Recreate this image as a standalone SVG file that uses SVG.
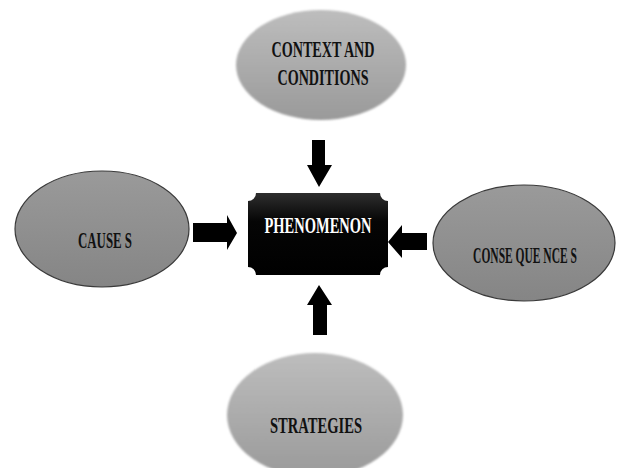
<svg xmlns="http://www.w3.org/2000/svg" width="618" height="468" viewBox="0 0 618 468">
<defs>
<linearGradient id="gLight" x1="0" y1="0" x2="0" y2="1">
<stop offset="0" stop-color="#bdbdbd"/>
<stop offset="1" stop-color="#9a9a9a"/>
</linearGradient>
<linearGradient id="gSide" x1="0" y1="0" x2="0" y2="1">
<stop offset="0" stop-color="#9a9a9a"/>
<stop offset="1" stop-color="#858585"/>
</linearGradient>
<linearGradient id="gBlack" x1="0" y1="0" x2="0" y2="1">
<stop offset="0" stop-color="#2e2e2e"/>
<stop offset="0.35" stop-color="#050505"/>
<stop offset="1" stop-color="#000000"/>
</linearGradient>
<filter id="soft" x="-10%" y="-10%" width="120%" height="120%">
<feGaussianBlur stdDeviation="1.2"/>
</filter>
</defs>
<style>
.lbl{font-family:"Liberation Serif","Times New Roman",serif;font-weight:bold;font-size:23px;fill:#111;text-anchor:middle}
.wht{fill:#fff}
.side{fill:url(#gSide);stroke:#3a3a3a;stroke-width:1.2}
.soft{fill:url(#gLight);filter:url(#soft)}
.arrow{fill:#000}
</style>
<rect width="618" height="468" fill="#fff"/>
<g id="context">
<ellipse class="soft" cx="321" cy="65" rx="85" ry="55"/>
<text class="lbl" x="323" y="57" textLength="103" lengthAdjust="spacingAndGlyphs">CONTEXT AND</text>
<text class="lbl" x="323" y="85" textLength="91" lengthAdjust="spacingAndGlyphs">CONDITIONS</text>
</g>
<g id="causes">
<ellipse class="side" cx="102" cy="229" rx="87" ry="58"/>
<text class="lbl" x="105" y="248" textLength="54" lengthAdjust="spacingAndGlyphs">CAUSE S</text>
</g>
<g id="consequences">
<ellipse class="side" cx="524" cy="243" rx="91" ry="58"/>
<text class="lbl" transform="translate(525 263) scale(0.5 1)" x="0" y="0">CONSE QUE NCE S</text>
</g>
<g id="strategies">
<ellipse class="soft" cx="315" cy="415" rx="88" ry="62"/>
<text class="lbl" x="316" y="433" textLength="92" lengthAdjust="spacingAndGlyphs">STRATEGIES</text>
</g>
<g id="phenomenon">
<path d="M256 193 H380 A8 8 0 0 0 388 201 V267 A8 8 0 0 0 380 275 H256 A8 8 0 0 0 248 267 V201 A8 8 0 0 0 256 193 Z" fill="url(#gBlack)"/>
<text class="lbl wht" x="318" y="233" textLength="107" lengthAdjust="spacingAndGlyphs">PHENOMENON</text>
</g>
<g id="connectors">
<polygon class="arrow" points="312,140 325,140 325,165 332,165 319,187 307,165 312,165"/>
<polygon class="arrow" points="313,335 327,335 327,305 332,305 319,285 307,305 313,305"/>
<polygon class="arrow" points="193,223 227,223 227,215 237,233 227,250 227,242 193,242"/>
<polygon class="arrow" points="427,233 402,233 402,225 388,242 402,258 402,250 427,250"/>
</g>
</svg>
